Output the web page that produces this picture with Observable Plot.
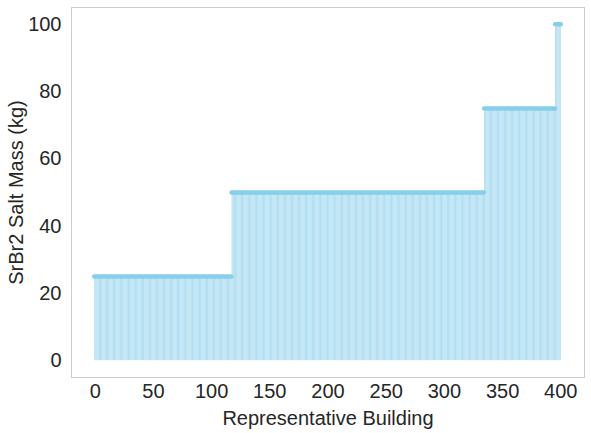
<!DOCTYPE html>
<html>
<head>
<meta charset="utf-8">
<script src="https://cdn.jsdelivr.net/npm/d3@7"></script>
<script src="https://cdn.jsdelivr.net/npm/@observablehq/plot@0.6"></script>
<style>
  html, body { margin: 0; padding: 0; background: #fff; }
</style>
</head>
<body>
<div id="chart"></div>
<script>
// Step levels: building index ranges and salt mass
const levelStart = [0, 118, 335, 396];
const levelEnd   = [117, 334, 395, 400];
const levelValue = [25, 50, 75, 100];
const xTicks = [0, 50, 100, 150, 200, 250, 300, 350, 400];
const yTicks = [0, 20, 40, 60, 80, 100];

const data = [];
levelValue.forEach((v, k) => {
  for (let i = levelStart[k]; i <= levelEnd[k]; i++) data.push({i, v});
});
const levels = levelValue.map((v, k) => ({v, a: levelStart[k], b: levelEnd[k]}));

const font = "Liberation Sans, Arial, sans-serif";
const textColor = "#262626";

const chart = Plot.plot({
  width: 591,
  height: 433,
  marginLeft: 71,
  marginRight: 7,
  marginTop: 7,
  marginBottom: 56,
  style: {fontFamily: font, fontSize: "20px", color: textColor, background: "#fff"},
  x: {domain: [-20.4, 420.4]},
  y: {domain: [-5, 105]},
  marks: [
    Plot.rect(data, {
      x1: d => d.i - 0.4, x2: d => d.i + 0.4, y1: 0, y2: "v",
      fill: "#87CEEB", fillOpacity: 0.71
    }),
    Plot.ruleY(levels, {
      y: "v", x1: d => d.a - 0.4, x2: d => d.b + 0.4,
      stroke: "#87CEEB", strokeWidth: 4.5, strokeLinecap: "round"
    }),
    Plot.frame({stroke: "#cccccc", strokeWidth: 1}),
    Plot.axisX(xTicks, {
      ticks: xTicks, tickSize: 0, tickPadding: 6, fontSize: 20, fill: textColor,
      label: "Representative Building", labelAnchor: "center", labelArrow: "none", labelOffset: 47
    }),
    Plot.axisY(yTicks, {
      ticks: yTicks, tickSize: 0, tickPadding: 10, fontSize: 20, fill: textColor,
      label: "SrBr2 Salt Mass (kg)", labelAnchor: "center", labelArrow: "none", labelOffset: 63
    })
  ]
});
document.getElementById("chart").appendChild(chart);
</script>
</body>
</html>
